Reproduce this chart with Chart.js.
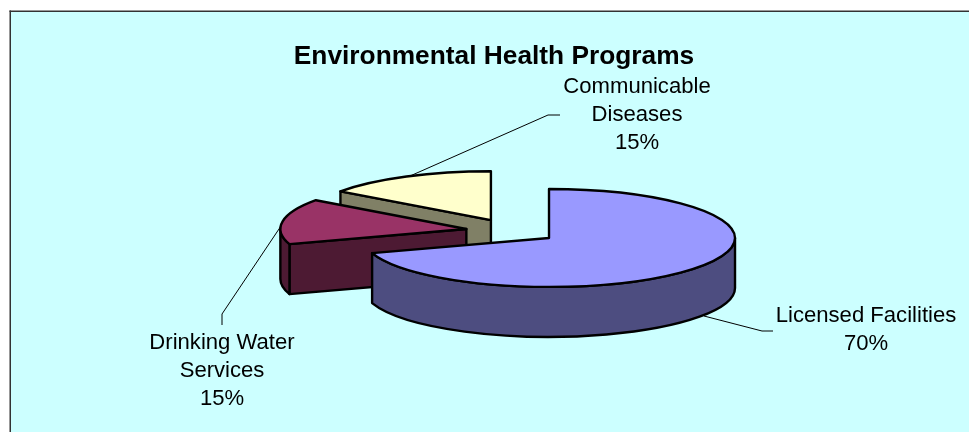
<!DOCTYPE html>
<html>
<head>
<meta charset="utf-8">
<title>Environmental Health Programs</title>
<script src="https://cdn.jsdelivr.net/npm/chart.js@4/dist/chart.umd.min.js"></script>
<style>
    html, body { margin: 0; padding: 0; background: #FFFFFF; }
    #wrap { position: relative; width: 969px; height: 432px; overflow: hidden; }
</style>
</head>
<body>
<div id="wrap"><canvas id="pieChart" width="969" height="432"></canvas></div>
<script>
// Data
const categories = ['Licensed Facilities', 'Drinking Water Services', 'Communicable Diseases'];
const seriesValues = [70, 15, 15];
const labelLines = [['Licensed Facilities'], ['Drinking Water', 'Services'], ['Communicable', 'Diseases']];

// Colours
const topColors = ['#9999FF', '#993366', '#FFFFCC'];
const wallColors = ['#4D4D80', '#4D1A33', '#808066'];
const PANEL_COLOR = '#CCFFFF';
const FRAME_COLOR = '#333333';
const LINE_COLOR = '#000000';

// Fake 3D pie settings (excel look)
const TILT = 0.263;
const DEPTH = 50;
const RADIUS = 186;
const EXPLODE = 46;
const SHIFT_X = 17.8; // title is centred on 494, the pie on 512
const DRAW_ORDER = [2, 1, 0]; // back to front
const PEN = 2.4;

// Label centres and leader lines, one per slice
const labelBoxes = [
    { x: 866, y: 316 },
    { x: 222, y: 343 },
    { x: 637, y: 87 }
];
const leaderLines = [
    [[704, 316], [762, 331], [773, 331]],
    [[281, 226], [222, 314], [222, 325]],
    [[410, 176], [548, 115], [560, 115]]
];
const LINE_HEIGHT = 28;
const LABEL_FONT = '22.1px "Liberation Sans", Arial, sans-serif';

// Moves the context so an arc can be drawn squashed, exploded and pushed down by depth
function setSliceTransform(ctx, chart, arc, depth) {
    const cy = (chart.chartArea.top + chart.chartArea.bottom) / 2;
    const mid = (arc.startAngle + arc.endAngle) / 2;
    ctx.translate(SHIFT_X + Math.cos(mid) * EXPLODE, cy + Math.sin(mid) * EXPLODE * TILT + depth);
    ctx.scale(1, TILT);
    ctx.translate(0, -cy);
}

function fillAndStroke(ctx, color) {
    ctx.fillStyle = color;
    ctx.fill();
    ctx.lineWidth = PEN;
    ctx.lineJoin = 'round';
    ctx.strokeStyle = LINE_COLOR;
    ctx.stroke();
}

function drawSideFace(ctx, chart, arc, angle, color) {
    const d = DEPTH / TILT;
    const ex = arc.x + Math.cos(angle) * arc.outerRadius;
    const ey = arc.y + Math.sin(angle) * arc.outerRadius;
    ctx.save();
    setSliceTransform(ctx, chart, arc, 0);
    ctx.beginPath();
    ctx.moveTo(arc.x, arc.y);
    ctx.lineTo(ex, ey);
    ctx.lineTo(ex, ey + d);
    ctx.lineTo(arc.x, arc.y + d);
    ctx.closePath();
    ctx.restore();
    fillAndStroke(ctx, color);
}

function drawSlice(ctx, chart, el, color) {
    const arc = el.getProps(['x', 'y', 'startAngle', 'endAngle', 'outerRadius']);
    const start = arc.startAngle;
    const end = arc.endAngle;

    // cut faces, only those turned towards the viewer
    if (-Math.cos(start) > 0.001) drawSideFace(ctx, chart, arc, start, color);
    if (Math.cos(end) > 0.001) drawSideFace(ctx, chart, arc, end, color);

    // outer wall, front half only
    const lo = Math.max(start, 0);
    const hi = Math.min(end, Math.PI);
    if (hi > lo) {
        ctx.save();
        setSliceTransform(ctx, chart, arc, 0);
        ctx.beginPath();
        ctx.arc(arc.x, arc.y, arc.outerRadius, lo, hi);
        ctx.arc(arc.x, arc.y + DEPTH / TILT, arc.outerRadius, hi, lo, true);
        ctx.closePath();
        ctx.restore();
        fillAndStroke(ctx, color);
    }

    // top face comes from the library, the outline is added on top with an even pen
    ctx.save();
    setSliceTransform(ctx, chart, arc, 0);
    el.draw(ctx);
    ctx.beginPath();
    ctx.moveTo(arc.x, arc.y);
    ctx.arc(arc.x, arc.y, arc.outerRadius, start, end);
    ctx.closePath();
    ctx.restore();
    ctx.lineWidth = PEN;
    ctx.lineJoin = 'round';
    ctx.strokeStyle = LINE_COLOR;
    ctx.stroke();
}

const panelPlugin = {
    id: 'panel',
    beforeDraw(chart) {
        const ctx = chart.ctx;
        ctx.save();
        ctx.fillStyle = PANEL_COLOR;
        ctx.fillRect(10, 11, chart.width - 10, chart.height - 11);
        ctx.fillStyle = FRAME_COLOR;
        ctx.fillRect(9.5, 10.5, chart.width - 9.5, 1.5);
        ctx.fillRect(9.5, 10.5, 1.5, chart.height - 10.5);
        ctx.restore();
    }
};

const pie3dPlugin = {
    id: 'pie3d',
    beforeDatasetsDraw(chart) {
        const ctx = chart.ctx;
        const meta = chart.getDatasetMeta(0);
        DRAW_ORDER.forEach(i => drawSlice(ctx, chart, meta.data[i], wallColors[i]));
        return false;
    },
    afterDraw(chart) {
        const ctx = chart.ctx;
        ctx.save();
        ctx.strokeStyle = LINE_COLOR;
        ctx.lineWidth = 1;
        leaderLines.forEach(points => {
            ctx.beginPath();
            points.forEach((p, i) => i ? ctx.lineTo(p[0], p[1]) : ctx.moveTo(p[0], p[1]));
            ctx.stroke();
        });
        ctx.fillStyle = '#000000';
        ctx.font = LABEL_FONT;
        ctx.textAlign = 'center';
        ctx.textBaseline = 'middle';
        labelLines.forEach((lines, i) => {
            const rows = lines.concat(seriesValues[i] + '%');
            rows.forEach((row, r) => ctx.fillText(row, labelBoxes[i].x, labelBoxes[i].y + r * LINE_HEIGHT));
        });
        ctx.restore();
    }
};

new Chart(document.getElementById('pieChart').getContext('2d'), {
    type: 'pie',
    data: {
        labels: categories,
        datasets: [{
            data: seriesValues,
            backgroundColor: topColors,
            borderWidth: 0
        }]
    },
    options: {
        responsive: false,
        animation: false,
        events: [],
        radius: RADIUS,
        layout: { padding: { left: 19, right: 0, top: 0, bottom: 49.2 } },
        plugins: {
            legend: { display: false },
            tooltip: { enabled: false },
            title: {
                display: true,
                text: 'Environmental Health Programs',
                color: '#000000',
                font: { family: '"Liberation Sans", Arial, sans-serif', size: 26.3, weight: 'bold' },
                padding: { top: 41, bottom: 6.4 }
            }
        }
    },
    plugins: [panelPlugin, pie3dPlugin]
});
</script>
</body>
</html>
